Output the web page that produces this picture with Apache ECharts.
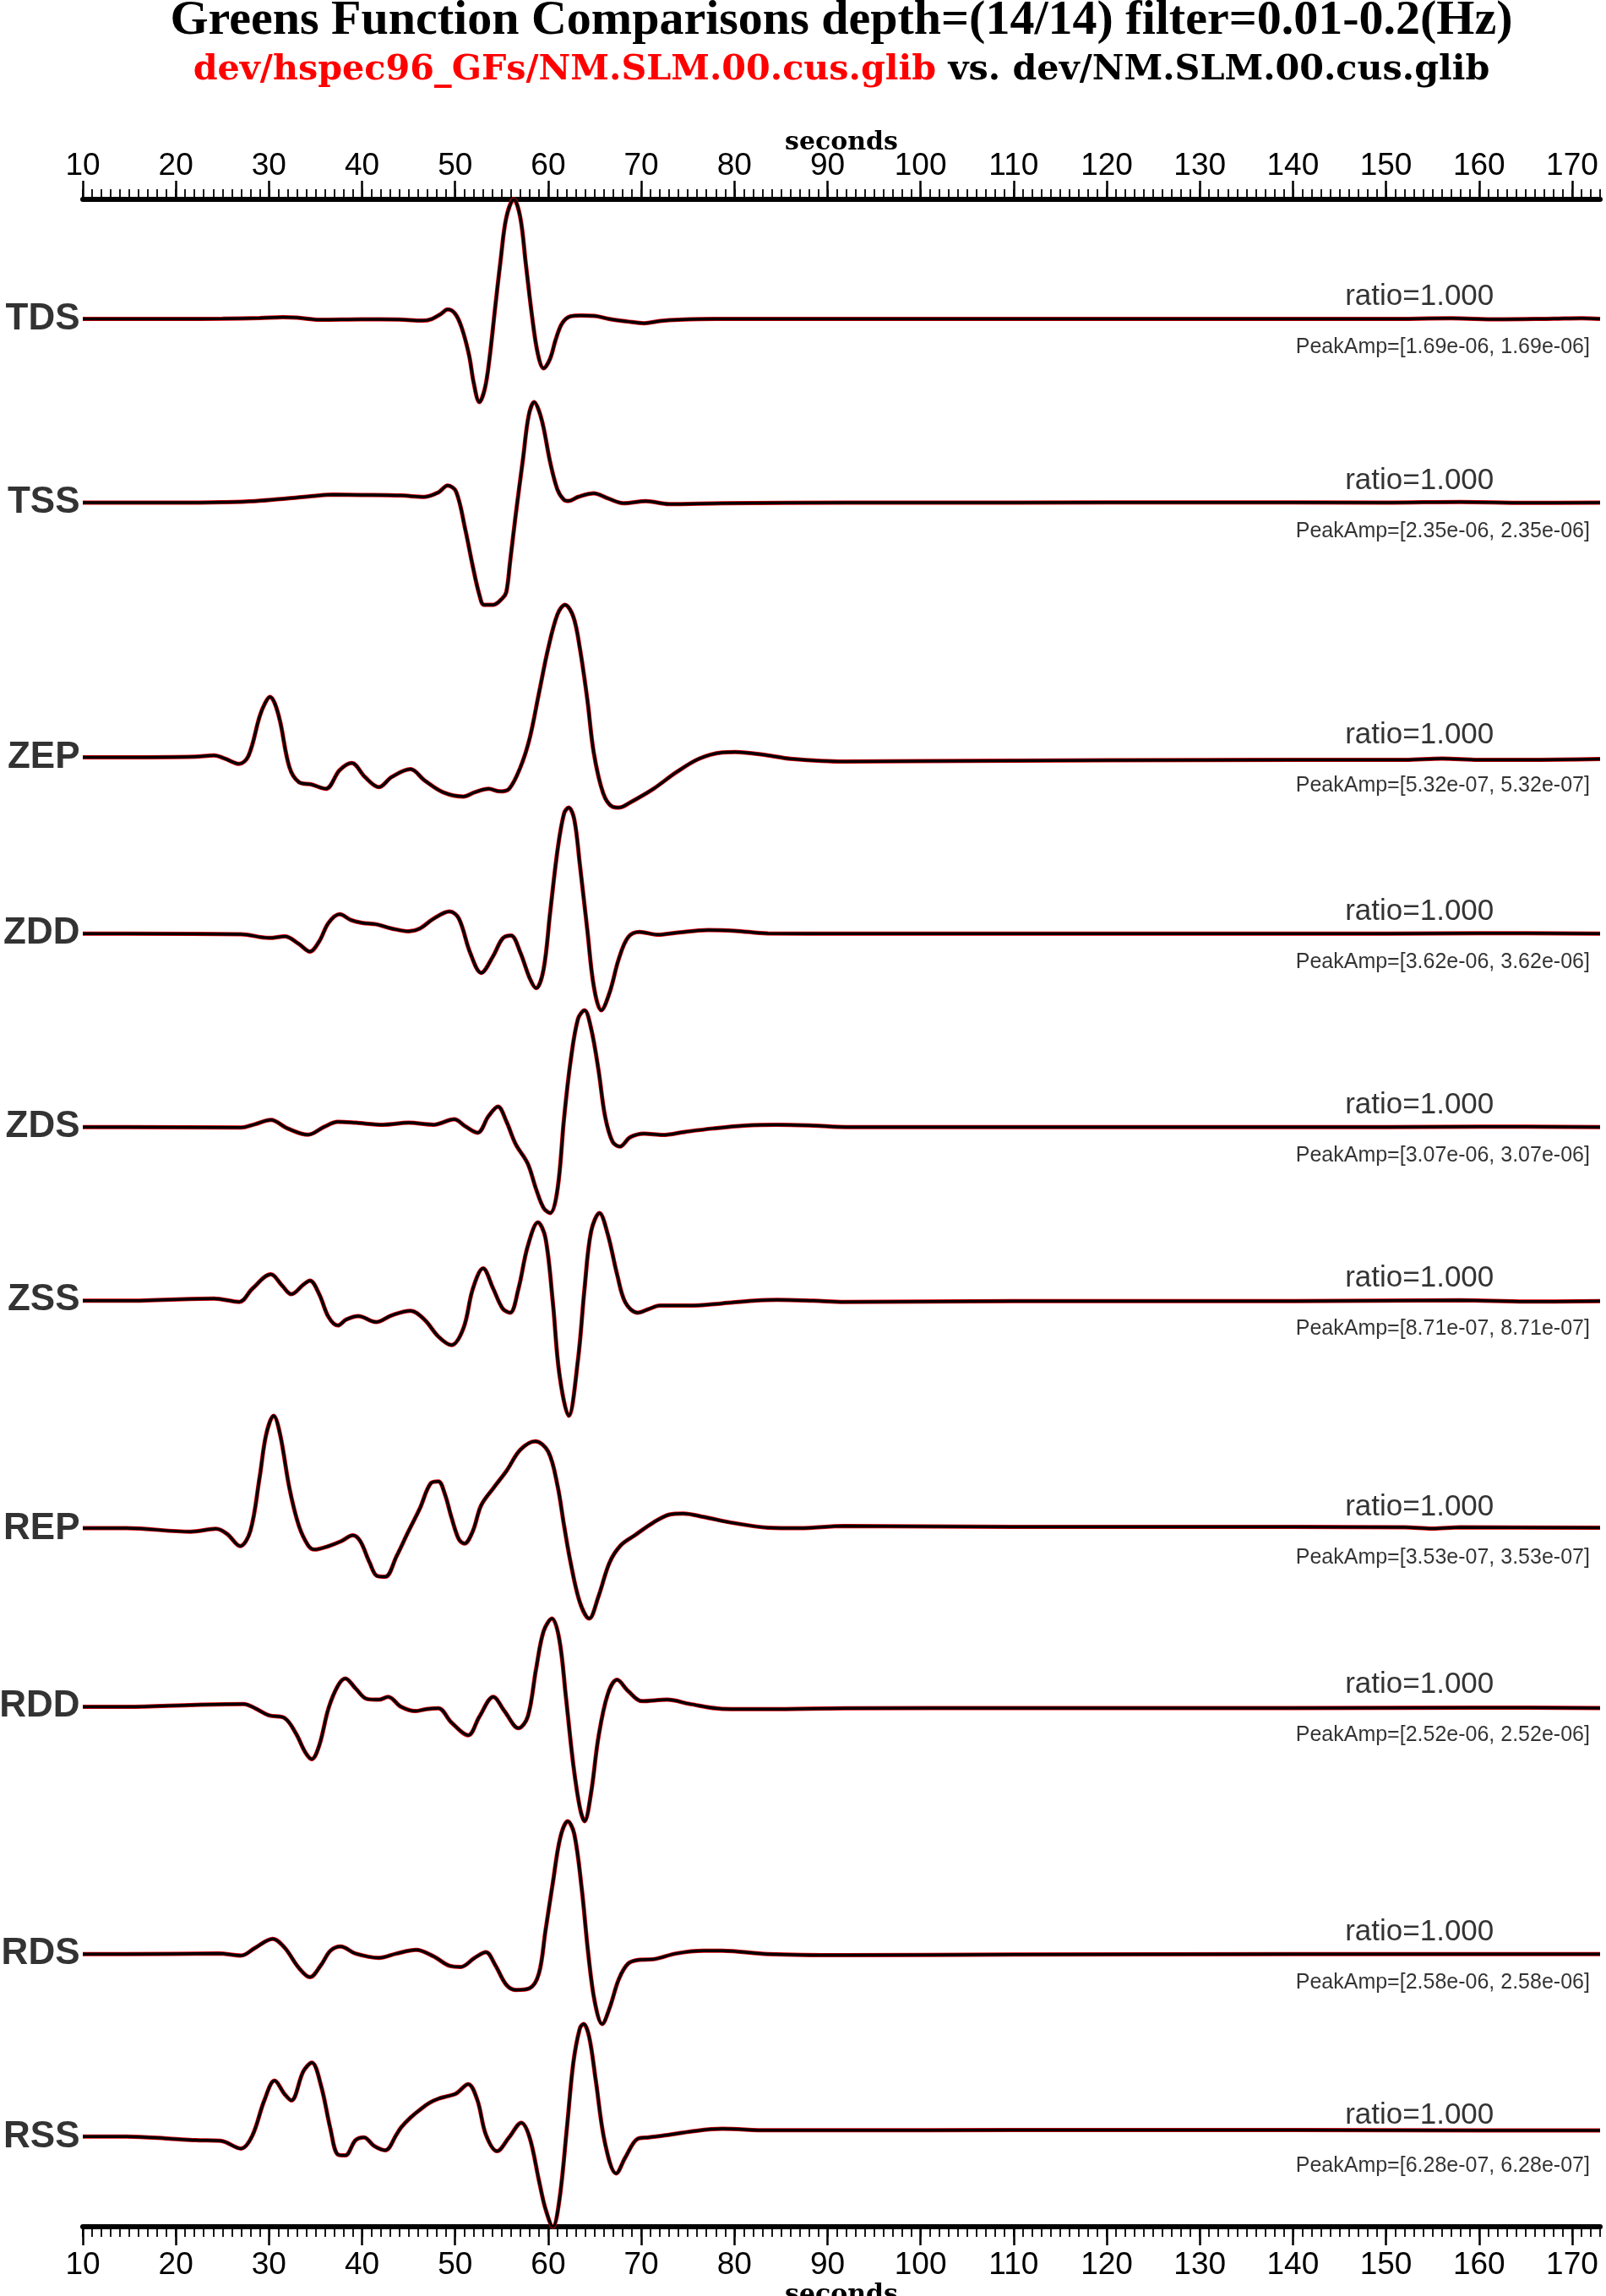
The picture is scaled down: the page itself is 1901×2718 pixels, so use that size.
<!DOCTYPE html>
<html><head><meta charset="utf-8">
<script src="https://cdn.jsdelivr.net/npm/echarts@6/dist/echarts.min.js"></script>
<style>html,body{margin:0;padding:0;background:#fff}#c{width:1901px;height:2718px}</style>
</head><body><div id="c"></div>
<script>
// ---- data (time in seconds, relative amplitude, up positive) ----
const traceNames = ['TDS','TSS','ZEP','ZDD','ZDS','ZSS','REP','RDD','RDS','RSS'];
const tds = [[10,0],[14.7,0],[20,0],[25,0.3],[29,1],[31.5,2],[33,1.5],[35.5,-1],[40,-0.5],[44,-0.7],[46.5,-2],[47.5,0],[48.5,6],[49.2,11],[50.0,6],[50.7,-10],[51.5,-42],[52.0,-74],[52.6,-96],[53.2,-80],[53.7,-45],[54.3,13],[54.9,69],[55.5,117],[56.3,138],[57.0,117],[57.6,63],[58.3,0],[58.9,-41],[59.5,-57],[60.2,-46],[60.8,-24],[61.5,-5],[62.4,3],[63.5,4],[65,3.5],[66.5,0],[68.5,-3],[70.3,-5],[72,-2.5],[74,-1],[78,0],[90,0],[110,0],[130,0],[150,0],[157,0.8],[162,-0.5],[168,0.3],[171,0.8],[173,0]];
const tss = [[10,0],[14.7,0],[20,0],[25,0.5],[28.5,1.7],[32,5],[35,8],[36.9,9.3],[40,9],[44.2,8.3],[46.7,6.7],[48.2,12],[49.2,20],[50.1,13],[51.1,-32],[51.9,-75],[52.6,-108],[53.1,-120],[54.1,-120],[55.1,-112],[55.5,-105],[55.9,-70],[56.5,-15],[57.3,52],[57.9,102],[58.5,118],[59.0,108],[59.5,88],[60.2,48],[61.0,15],[61.7,3.3],[62.2,2],[63.2,6.7],[64.9,11],[66.4,5],[68.1,-0.7],[70.5,1.7],[73,-1.7],[78.7,-0.7],[92,0],[110,0],[130,0.3],[150,0],[158,0.8],[165,-0.3],[173,0]];
const zep = [[10,0],[14.7,0],[22.1,0.7],[24.1,2.3],[25.3,-1.7],[26.8,-7.7],[27.8,1.7],[29.0,48],[29.6,64],[30.1,71],[30.6,64],[31.2,42],[32.2,-11.7],[33.2,-29],[34.6,-32],[36.1,-37],[37.6,-15],[38.9,-6.7],[40.3,-23],[41.8,-35],[43.2,-23],[45.2,-14],[46.7,-27],[48.7,-41],[50.9,-46],[52.1,-41],[53.6,-37],[54.8,-40],[55.8,-37],[57.0,-12],[58.0,22],[59.0,75],[60.0,128],[61.0,168],[61.8,179],[62.7,165],[63.4,128],[64.2,68],[64.9,5],[65.9,-42],[66.9,-58],[67.6,-59],[68.8,-53],[71.3,-37],[73.7,-18],[76.2,-1.7],[78.7,5.7],[80.1,6.3],[83.6,2.3],[86.0,-1.7],[91.8,-5],[100,-4.5],[120,-3.5],[140,-3],[152,-3],[156,-1.5],[160,-3],[165,-3],[173,-2]];
const zdd = [[10,0],[14.7,0],[27.0,-0.7],[30.0,-5],[31.7,-3.3],[33.2,-12],[34.4,-21],[35.4,-9],[36.4,12.7],[37.6,22.7],[38.8,16],[40.0,12.7],[41.5,11],[43.2,6],[45.0,2.7],[46.2,6],[47.7,17.7],[49.4,26],[50.4,17.7],[51.6,-22],[52.8,-46],[54.1,-26],[55.1,-5.7],[56.0,-2.3],[57.0,-22],[58.0,-52],[58.7,-64],[59.5,-42],[60.2,24],[61.0,98],[61.7,141],[62.2,148],[62.8,134],[63.4,81],[64.2,4.3],[64.9,-62],[65.7,-90],[66.6,-69],[67.6,-29],[68.6,-4],[69.8,2],[71.8,-1.3],[73.7,1],[77.2,4.3],[80.1,3.3],[83.6,0.3],[92,0],[120,0],[150,0],[160,0.5],[173,0]];
const zds = [[10,0],[14.7,0],[27.0,-0.7],[28.5,3.3],[30.2,8.3],[32.0,-1.7],[34.2,-9],[35.9,0],[37.4,6],[39.3,5],[42.3,2.7],[45.0,5],[47.7,2.7],[49.9,9],[51.1,0.7],[52.4,-6.7],[53.6,13],[54.6,24],[55.5,6.7],[56.5,-20],[57.8,-43],[58.7,-73],[59.5,-95],[60.2,-101],[61.0,-73],[61.7,10],[62.4,77],[63.2,127],[63.9,137],[64.6,116],[65.4,67],[66.1,13],[66.9,-17],[67.7,-23],[68.8,-12],[70.3,-7.7],[72.3,-9.3],[74.7,-5.7],[77.7,-1.7],[81.1,1.7],[84.6,2.7],[88.5,1.7],[92,0],[120,0],[150,0],[160,0.5],[173,0]];
const zss = [[10,-1],[14.7,-1],[24.1,1.7],[26.8,-2.3],[28.2,13],[30.2,30],[31.4,17],[32.4,6.7],[33.7,18],[34.4,22.7],[35.4,6.7],[36.4,-20],[37.4,-30],[38.3,-23],[39.6,-19],[41.5,-26],[43.2,-18],[45.2,-12.7],[46.7,-23],[48.2,-43],[49.6,-53],[50.9,-33],[51.9,13],[53.0,37],[54.1,13],[55.1,-10],[55.9,-15],[56.8,13],[57.8,63],[58.9,91],[59.7,73],[60.5,-3.3],[61.2,-87],[62.2,-136],[63.2,-70],[63.9,13],[64.6,80],[65.5,102],[66.4,77],[67.4,30],[68.3,-3.3],[69.6,-15],[70.8,-10.7],[72.0,-6.7],[75.2,-6.7],[78.7,-4],[82.1,-1],[84.6,0],[88.5,-1],[91.8,-2.3],[110,-1.5],[140,-1.5],[158,-0.5],[165,-2],[173,-1.5]];
const rep = [[10,1],[14.7,1],[21.6,-3],[24.3,0.3],[25.5,-5.7],[26.9,-20],[28.0,-2.3],[29.0,61],[29.7,111],[30.5,133],[31.2,111],[32.2,48],[33.2,4.3],[34.2,-19],[34.9,-24],[36.4,-20],[37.8,-14],[39.0,-7.3],[39.8,-14],[40.8,-39],[41.6,-55],[42.5,-56],[43.7,-32],[45.0,-2.3],[46.2,24],[47.4,54],[48.2,56],[48.9,41],[49.6,14],[50.4,-12],[51.0,-17],[51.9,-2.3],[52.8,28],[54.1,48],[55.5,68],[57.0,93],[58.6,103],[60.0,91],[61.0,51],[61.7,4.3],[62.4,-39],[63.4,-86],[64.4,-105],[65.4,-79],[66.6,-39],[67.8,-19],[69.3,-7.3],[71.3,7.7],[73.0,17],[74.5,18.3],[76.7,14.3],[79.6,7.7],[83.6,1.7],[87.0,1],[91.8,3.7],[110,2.5],[140,2.5],[152,2],[155,0.5],[158,2],[173,1.5]];
const rdd = [[10,-0.7],[14.7,-0.7],[22.1,1.7],[27.3,2.7],[28.5,-2.3],[30.0,-10.7],[31.7,-14],[32.9,-32],[33.9,-54],[34.6,-62],[35.4,-46],[36.4,-2.3],[37.4,24],[38.2,32.7],[39.3,21],[40.5,8.7],[41.8,7.7],[42.8,11],[44.2,-0.7],[45.7,-5.7],[46.9,-3.3],[48.2,-2.3],[49.6,-19],[51.4,-34],[52.6,-12.3],[54.1,11],[55.3,-5.7],[56.8,-25.7],[57.8,-12.3],[58.7,44],[59.5,88],[60.4,103],[61.2,78],[61.9,11],[62.7,-69],[63.4,-119],[63.9,-135],[64.6,-102],[65.4,-36],[66.4,14.3],[67.4,31],[68.6,17.7],[70.1,6],[72.8,7.7],[75.2,2.7],[78.7,-3],[83.6,-3.3],[91.8,-2.3],[110,-2],[140,-2],[160,-1.5],[173,-2]];
const rds = [[10,0],[14.7,0],[24.6,0.7],[27.0,-1.7],[28.5,7.3],[30.4,18],[31.7,7.3],[33.2,-16],[34.4,-27],[35.6,-12.7],[36.6,4],[37.7,9],[39.3,0.7],[41.8,-4.3],[43.7,0.7],[45.8,5],[47.7,-2.7],[49.4,-13.7],[50.6,-15],[52.1,-4.3],[53.3,2.3],[54.3,-12.7],[55.5,-36],[56.5,-42],[58.0,-40],[59.0,-22.7],[59.7,27],[60.5,84],[61.3,137],[62.1,156],[62.8,141],[63.6,77],[64.3,0.7],[65.0,-56],[65.8,-82],[66.6,-63],[67.6,-29],[68.6,-11],[69.8,-6.7],[71.3,-6],[73.7,0.7],[76.7,4],[78.7,4],[83.6,0],[91.8,-1.3],[110,-0.5],[140,0],[160,0],[173,0]];
const rss = [[10,1],[14.7,1],[19.6,-1.7],[22.1,-3.3],[24.8,-4],[27.0,-13],[28.2,1.7],[29.5,43],[30.6,66],[31.7,50],[32.4,43],[33.7,77],[34.6,87],[35.6,60],[36.6,10],[37.4,-20],[38.2,-21],[39.3,-3.3],[40.2,0],[41.3,-10],[42.5,-15],[43.7,3.3],[44.2,11.7],[45.2,23],[46.2,32],[47.2,40],[48.2,45],[49.2,48],[50.1,51],[51.4,62],[52.4,43],[53.3,3.3],[54.5,-16],[55.8,0],[57.1,17],[58.0,0],[59.0,-50],[59.7,-83],[60.5,-104],[61.2,-73],[62.0,10],[62.7,87],[63.4,127],[63.8,132],[64.4,117],[65.1,67],[66.1,-6.7],[67.3,-42],[68.3,-23],[69.6,-1.7],[70.8,0],[72.8,2.7],[75.2,6.7],[78.7,10],[83.6,8.3],[91.8,8.3],[110,8.5],[140,8.5],[160,8],[173,8]];
const ratios = ['1.000','1.000','1.000','1.000','1.000','1.000','1.000','1.000','1.000','1.000'];
const peakA = ['1.69e-06','2.35e-06','5.32e-07','3.62e-06','3.07e-06','8.71e-07','3.53e-07','2.52e-06','2.58e-06','6.28e-07'];
const peakB = ['1.69e-06','2.35e-06','5.32e-07','3.62e-06','3.07e-06','8.71e-07','3.53e-07','2.52e-06','2.58e-06','6.28e-07'];
const majorTicks = [10,20,30,40,50,60,70,80,90,100,110,120,130,140,150,160,170];
const xMin = 10, xMax = 173;
const minorTicks = []; for (let v = xMin; v <= xMax; v++) minorTicks.push(v);

// ---- build: normalize each trace to unit peak-to-peak, stack touching ----
const traces = [tds, tss, zep, zdd, zds, zss, rep, rdd, rds, rss];
const norm = traces.map(tr => {
  const vals = tr.map(p => p[1]);
  const mx = Math.max(...vals), mn = Math.min(...vals), p2p = mx - mn;
  return { pts: tr.map(p => [p[0], p[1] / p2p]), mx: mx / p2p, mn: mn / p2p };
});
const base = [];
norm.forEach((n, i) => { base.push(i === 0 ? n.mx : base[i - 1] - norm[i - 1].mn + n.mx); });
const total = base[base.length - 1] - norm[norm.length - 1].mn;

const series = [];
norm.forEach((n, i) => {
  const d = n.pts.map(p => [p[0], p[1] - base[i]]);
  series.push({ type: 'line', name: traceNames[i] + '_a', data: d, showSymbol: false, symbol: 'none', smooth: 0.35, clip: false,
    lineStyle: { color: '#e8000b', width: 5 }, z: 2, silent: true });
  series.push({ type: 'line', name: traceNames[i] + '_b', data: d, showSymbol: false, symbol: 'none', smooth: 0.35, clip: false,
    lineStyle: { color: '#000000', width: 3.5 }, z: 3, silent: true });
});
const sans = 'Liberation Sans, Helvetica, Arial, sans-serif';
series.push({ type: 'scatter', symbolSize: 1, itemStyle: { color: 'rgba(0,0,0,0)' }, silent: true, z: 5,
  data: traceNames.map((nm, i) => ({ name: nm, value: [xMin, -base[i]] })),
  label: { show: true, position: 'left', distance: 3, formatter: '{b}', color: '#000', fontFamily: sans, fontWeight: 'bold', fontSize: 44 } });
series.push({ type: 'scatter', symbolSize: 1, itemStyle: { color: 'rgba(0,0,0,0)' }, silent: true, z: 5,
  data: ratios.map((r, i) => ({ name: 'ratio=' + r, value: [153.6, -base[i]] })),
  label: { show: true, position: 'inside', offset: [0, -26], formatter: '{b}', color: '#000', fontFamily: sans, fontSize: 35 } });
series.push({ type: 'scatter', symbolSize: 1, itemStyle: { color: 'rgba(0,0,0,0)' }, silent: true, z: 5,
  data: peakA.map((p, i) => ({ name: 'PeakAmp=[' + p + ', ' + peakB[i] + ']', value: [171.9, -base[i]] })),
  label: { show: true, position: 'inside', align: 'right', offset: [0, 34], formatter: '{b}', color: '#000', fontFamily: sans, fontSize: 25 } });

const serif = 'Liberation Serif, Times New Roman, serif';
const wideSerif = 'DejaVu Serif, serif';
const majorAxis = (pos) => ({
  type: 'value', gridIndex: 0, position: pos, min: xMin, max: xMax,
  axisLine: { show: true, onZero: false, lineStyle: { color: '#000', width: 6 } },
  axisTick: { show: true, customValues: majorTicks, length: 22, lineStyle: { color: '#000', width: 2.5 } },
  axisLabel: { show: true, customValues: majorTicks, margin: pos === 'top' ? 21 : 27, color: '#000', fontFamily: sans, fontSize: 37 },
  splitLine: { show: false },
  name: 'seconds', nameLocation: 'middle', nameGap: pos === 'top' ? 52 : 66, nameMoveOverlap: false,
  nameTextStyle: { color: '#000', fontFamily: wideSerif, fontWeight: 'bold', fontSize: 30 }
});
const minorAxis = (pos) => ({
  type: 'value', gridIndex: 0, position: pos, min: xMin, max: xMax,
  axisLine: { show: false, onZero: false },
  axisTick: { show: true, customValues: minorTicks, length: 12, lineStyle: { color: '#000', width: 1.8 } },
  axisLabel: { show: false }, splitLine: { show: false }
});

const chart = echarts.init(document.getElementById('c'), null, { renderer: 'canvas' });
chart.setOption({
  backgroundColor: '#ffffff',
  animation: false,
  grid: { left: 98, right: 7, top: 236, bottom: 82, containLabel: false, outerBoundsMode: 'none' },
  xAxis: [majorAxis('bottom'), majorAxis('top'), minorAxis('bottom'), minorAxis('top')],
  yAxis: { type: 'value', min: -total, max: 0, show: false },
  graphic: [
    { type: 'text', x: 996, y: 25, silent: true,
      style: { text: 'Greens Function Comparisons depth=(14/14) filter=0.01-0.2(Hz)', fill: '#000',
        font: 'bold 58px ' + serif, textAlign: 'center', textVerticalAlign: 'middle' } },
    { type: 'text', x: 996, y: 83, silent: true,
      style: { text: '{r|dev/hspec96_GFs/NM.SLM.00.cus.glib}{k| vs. dev/NM.SLM.00.cus.glib}',
        textAlign: 'center', textVerticalAlign: 'middle',
        rich: { r: { fill: '#ff0000', font: 'bold 41.3px ' + wideSerif }, k: { fill: '#000', font: 'bold 41.3px ' + wideSerif } } } }
  ],
  series: series
});
</script>
</body></html>
